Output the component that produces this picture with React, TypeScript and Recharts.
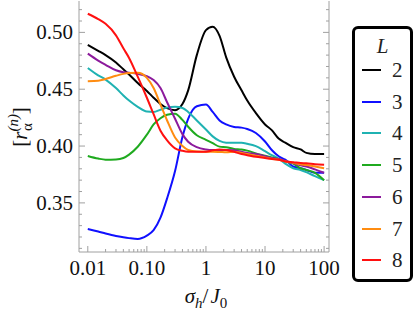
import React from "react";
import { LineChart, Line, XAxis, YAxis } from "recharts";

// sigma_h / J_0 sample points (log axis)
const sigma = [
  0.01, 0.015, 0.02, 0.03, 0.04, 0.05, 0.07, 0.1, 0.13, 0.17, 0.22, 0.3, 0.4, 0.5, 0.7, 1,
  1.3, 1.7, 2.2, 3, 4, 5, 7, 10, 13, 17, 22, 30, 40, 50, 70, 100,
];

const rL2 = [
  0.489, 0.4838, 0.48, 0.4735, 0.4675, 0.463, 0.4555, 0.4485, 0.4425, 0.437, 0.4333, 0.4316,
  0.437, 0.449, 0.48, 0.502, 0.505, 0.497, 0.478, 0.461, 0.449, 0.44, 0.429, 0.419, 0.414,
  0.4066, 0.403, 0.399, 0.397, 0.394, 0.393, 0.393,
];
const rL3 = [
  0.327, 0.3248, 0.323, 0.3208, 0.3197, 0.319, 0.3183, 0.3212, 0.326, 0.337, 0.354, 0.378,
  0.408, 0.424, 0.435, 0.4365, 0.43, 0.4225, 0.419, 0.4168, 0.4162, 0.415, 0.4115, 0.404,
  0.3965, 0.391, 0.388, 0.382, 0.3805, 0.379, 0.3765, 0.3765,
];
const rL4 = [
  0.4687, 0.4622, 0.4585, 0.451, 0.4445, 0.44, 0.4345, 0.4303, 0.43, 0.432, 0.4338, 0.4345,
  0.4335, 0.43, 0.4225, 0.4145, 0.4085, 0.4045, 0.403, 0.4028, 0.4028, 0.402, 0.4, 0.3955,
  0.392, 0.389, 0.3845, 0.3805, 0.379, 0.377, 0.3735, 0.37,
];
const rL5 = [
  0.3913, 0.389, 0.388, 0.3882, 0.3895, 0.3925, 0.3994, 0.41, 0.419, 0.4245, 0.4275, 0.4285,
  0.423, 0.417, 0.4095, 0.4055, 0.4025, 0.3995, 0.399, 0.3975, 0.397, 0.396, 0.3935, 0.3915,
  0.39, 0.3885, 0.3865, 0.3845, 0.3805, 0.379, 0.3765, 0.37,
];
const rL6 = [
  0.4813, 0.4752, 0.4715, 0.4667, 0.465, 0.4645, 0.4635, 0.4615, 0.458, 0.451, 0.4385, 0.424,
  0.4105, 0.4038, 0.399, 0.397, 0.3965, 0.3965, 0.3965, 0.3963, 0.395, 0.394, 0.393, 0.391,
  0.3895, 0.3887, 0.387, 0.385, 0.383, 0.382, 0.3795, 0.3765,
];
const rL7 = [
  0.457, 0.4575, 0.459, 0.4618, 0.4635, 0.4642, 0.4645, 0.46, 0.451, 0.4365, 0.4225, 0.4075,
  0.4, 0.3965, 0.3952, 0.395, 0.395, 0.3948, 0.3945, 0.395, 0.394, 0.393, 0.3915, 0.39,
  0.3888, 0.388, 0.3865, 0.3853, 0.384, 0.3833, 0.382, 0.3805,
];
const rL8 = [
  0.5164, 0.5117, 0.5075, 0.4974, 0.486, 0.4775, 0.461, 0.4425, 0.428, 0.4135, 0.405, 0.398,
  0.3958, 0.395, 0.395, 0.395, 0.3962, 0.397, 0.3965, 0.395, 0.393, 0.392, 0.3905, 0.3895,
  0.3887, 0.388, 0.3865, 0.3858, 0.385, 0.3848, 0.384, 0.3835,
];

const sizes = ["2", "3", "4", "5", "6", "7", "8"];
const series = [rL2, rL3, rL4, rL5, rL6, rL7, rL8];
const colors = ["#000000", "#1010ff", "#1fb2b2", "#1faa1f", "#8c1a9c", "#ff8c10", "#ff1010"];

const xMajor = [0.01, 0.1, 1, 10, 100];
const xMajorLabels = ["0.01", "0.10", "1", "10", "100"];
const yTicks = [
  0.31, 0.32, 0.33, 0.34, 0.35, 0.36, 0.37, 0.38, 0.39, 0.4, 0.41, 0.42, 0.43, 0.44, 0.45, 0.46,
  0.47, 0.48, 0.49, 0.5, 0.51, 0.52,
];
const yMajor = [0.35, 0.4, 0.45, 0.5];
const yMajorLabels = ["0.35", "0.40", "0.45", "0.50"];

const xTicks: number[] = [];
[0.01, 0.1, 1, 10].forEach((d) => {
  for (let k = 1; k <= 9; k++) xTicks.push(+(k * d).toPrecision(3));
});
xTicks.push(100);

const data = sigma.map((s, i) => {
  const row: Record<string, number> = { s };
  sizes.forEach((L, j) => (row["L" + L] = series[j][i]));
  return row;
});

const frame = "#a0a0a0";
const serif = "'Liberation Serif', 'Times New Roman', serif";

const idx = (arr: number[], v: number) => arr.findIndex((m) => Math.abs(m - v) < 1e-6 * m);

function XTick({ x, y, payload, top }: any) {
  const i = idx(xMajor, payload.value);
  const len = i >= 0 ? 6 : 3;
  const dir = top ? 1 : -1;
  return (
    <g>
      <line x1={x} x2={x} y1={y} y2={y + dir * len} stroke={frame} />
      {!top && i >= 0 && (
        <text x={x} y={y + 23} textAnchor="middle" fontSize={21} fontFamily={serif} fill="#111">
          {xMajorLabels[i]}
        </text>
      )}
    </g>
  );
}

function YTick({ x, y, payload, right }: any) {
  const i = idx(yMajor, payload.value);
  const len = i >= 0 ? 6 : 3;
  const dir = right ? -1 : 1;
  return (
    <g>
      <line x1={x} x2={x + dir * len} y1={y} y2={y} stroke={frame} />
      {!right && i >= 0 && (
        <text x={x - 6} y={y + 7} textAnchor="end" fontSize={21} fontFamily={serif} fill="#111">
          {yMajorLabels[i]}
        </text>
      )}
    </g>
  );
}

function YLabel() {
  const cx = 27;
  const cy = 127;
  return (
    <text
      x={cx}
      y={cy}
      transform={`rotate(-90 ${cx} ${cy})`}
      textAnchor="middle"
      fontSize={21}
      fontFamily={serif}
      fill="#111"
    >
      <tspan>[</tspan>
      <tspan fontStyle="italic">r</tspan>
      <tspan fontSize={15} fontStyle="italic" dy={-9}>
        (n)
      </tspan>
      <tspan fontSize={15} dx={-17} dy={14}>
        α
      </tspan>
      <tspan dx={9} dy={-5}>
        ]
      </tspan>
    </text>
  );
}

function XLabel() {
  return (
    <text x={206} y={303} textAnchor="middle" fontSize={21} fontFamily={serif} fill="#111">
      <tspan fontStyle="italic">σ</tspan>
      <tspan fontSize={15} fontStyle="italic" dy={5}>
        h
      </tspan>
      <tspan dy={-5}>/</tspan>
      <tspan fontStyle="italic" dx={2}>
        J
      </tspan>
      <tspan fontSize={15} dy={5}>
        0
      </tspan>
    </text>
  );
}

function LegendBox() {
  return (
    <div
      style={{
        position: "absolute",
        left: 352,
        top: 26,
        width: 61,
        height: 256,
        boxSizing: "border-box",
        border: "3px solid #000",
        borderRadius: 6,
        background: "#fff",
        fontFamily: serif,
        fontSize: 21,
        color: "#222",
      }}
    >
      <div
        style={{
          position: "absolute",
          left: 0,
          width: 55,
          top: 5,
          textAlign: "center",
          fontStyle: "italic",
          lineHeight: "24px",
        }}
      >
        L
      </div>
      {sizes.map((L, j) => (
        <div
          key={L}
          style={{ position: "absolute", left: 0, top: 29 + j * 31.7, height: 24, width: 55 }}
        >
          <div
            style={{
              position: "absolute",
              left: 7,
              top: 11,
              width: 19,
              height: 2,
              background: colors[j],
            }}
          />
          <div style={{ position: "absolute", left: 37, top: 0, lineHeight: "24px" }}>{L}</div>
        </div>
      ))}
    </div>
  );
}

export default function App() {
  return (
    <div style={{ position: "absolute", left: 0, top: 0, width: 415, height: 319, background: "#fff" }}>
      <LineChart
        width={415}
        height={319}
        data={data}
        margin={{ top: 1, right: 85, bottom: 37, left: 19 }}
      >
        <XAxis
          dataKey="s"
          type="number"
          scale="log"
          domain={[0.0071, 121]}
          allowDataOverflow
          ticks={xTicks}
          interval={0}
          tickSize={0}
          tickMargin={0}
          tickLine={false}
          axisLine={{ stroke: frame }}
          height={30}
          tick={<XTick />}
          label={<XLabel />}
        />
        <XAxis
          xAxisId="top"
          dataKey="s"
          type="number"
          scale="log"
          orientation="top"
          domain={[0.0071, 121]}
          allowDataOverflow
          ticks={xTicks}
          interval={0}
          tickSize={0}
          tickMargin={0}
          tickLine={false}
          axisLine={{ stroke: frame }}
          height={0}
          tick={<XTick top />}
        />
        <YAxis
          type="number"
          domain={[0.3068, 0.5276]}
          allowDataOverflow
          ticks={yTicks}
          interval={0}
          tickSize={0}
          tickMargin={0}
          tickLine={false}
          axisLine={{ stroke: frame }}
          width={60}
          tick={<YTick />}
          label={<YLabel />}
        />
        <YAxis
          yAxisId="right"
          orientation="right"
          type="number"
          domain={[0.3068, 0.5276]}
          allowDataOverflow
          ticks={yTicks}
          interval={0}
          tickSize={0}
          tickMargin={0}
          tickLine={false}
          axisLine={{ stroke: frame }}
          width={1}
          tick={<YTick right />}
        />
        {sizes.map((L, j) => (
          <Line
            key={L}
            dataKey={"L" + L}
            type="monotone"
            stroke={colors[j]}
            strokeWidth={2}
            dot={false}
            isAnimationActive={false}
          />
        ))}
      </LineChart>
      <LegendBox />
    </div>
  );
}
